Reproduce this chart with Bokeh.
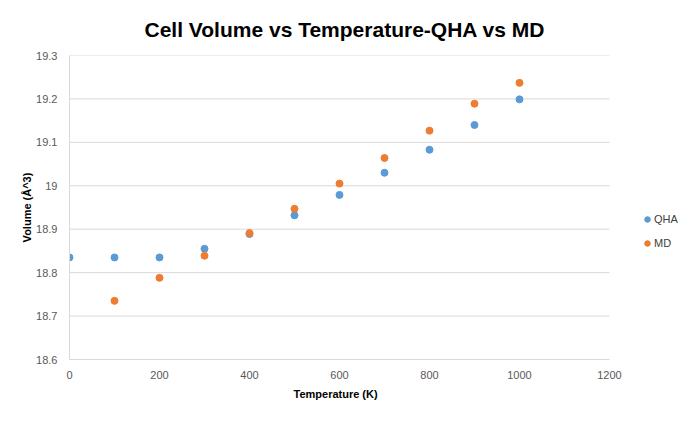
from bokeh.plotting import figure
from bokeh.models import ColumnDataSource, Legend, LegendItem, FixedTicker, Title
from bokeh.embed import file_html
from bokeh.resources import INLINE

# temperatures (K) and cell volumes (A^3)
temperature = [0, 100, 200, 300, 400, 500, 600, 700, 800, 900, 1000]
qha_volume = [18.835, 18.835, 18.835, 18.855, 18.889, 18.932, 18.979, 19.030, 19.083, 19.140, 19.199]
md_temperature = [100, 200, 300, 400, 500, 600, 700, 800, 900, 1000]
md_volume = [18.735, 18.788, 18.839, 18.891, 18.947, 19.005, 19.064, 19.127, 19.189, 19.237]

x_ticks = [0, 200, 400, 600, 800, 1000, 1200]
y_ticks = [18.6, 18.7, 18.8, 18.9, 19.0, 19.1, 19.2, 19.3]
y_tick_labels = ["18.6", "18.7", "18.8", "18.9", "19", "19.1", "19.2", "19.3"]

FONT = "Liberation Sans"
GREY = "#595959"
LINE = "#d9d9d9"

qha_source = ColumnDataSource(dict(x=temperature, y=qha_volume))
md_source = ColumnDataSource(dict(x=md_temperature, y=md_volume))
grid_source = ColumnDataSource(dict(x0=[x_ticks[0]] * len(y_ticks), x1=[x_ticks[-1]] * len(y_ticks),
                                    y=y_ticks))

# the frame runs on past 1200 so the legend can sit to the right of the data area
# (a legend in a side panel upsets the layout); axis and grid stop at 1200
frame_px, data_px = 617, 540
p = figure(width=686, height=414, output_backend="svg", toolbar_location=None,
           x_range=(0, x_ticks[-1] * frame_px / data_px), y_range=(18.6, 19.3),
           min_border_left=69, min_border_right=0, min_border_top=55, min_border_bottom=55)
p.background_fill_color = "white"
p.border_fill_color = "white"
p.outline_line_color = None

# title
p.title.text = "Cell Volume vs Temperature-QHA vs MD"
p.title.align = "left"
p.title.offset = 75
p.title.standoff = 30
p.title.text_font = FONT
p.title.text_font_size = "21px"
p.title.text_font_style = "bold"
p.title.text_color = "black"

# grid: horizontal lines only, drawn between 0 and 1200
p.xgrid.grid_line_color = None
p.ygrid.grid_line_color = None
p.segment(x0="x0", x1="x1", y0="y", y1="y", source=grid_source, line_color=LINE, line_width=1)

# axes
p.xaxis.ticker = FixedTicker(ticks=x_ticks)
p.xaxis.bounds = (x_ticks[0], x_ticks[-1])
p.yaxis.ticker = FixedTicker(ticks=y_ticks)
p.yaxis.major_label_overrides = dict(zip(y_ticks, y_tick_labels))
for ax in (p.xaxis, p.yaxis):
    ax.axis_line_color = LINE
    ax.major_tick_line_color = None
    ax.minor_tick_line_color = None
    ax.major_label_text_font = FONT
    ax.major_label_text_font_size = "11px"
    ax.major_label_text_color = GREY
    ax.axis_label_text_font = FONT
    ax.axis_label_text_font_size = "11px"
    ax.axis_label_text_font_style = "bold"
    ax.axis_label_text_color = "black"
p.xaxis.major_label_standoff = 5
p.yaxis.axis_label = "Volume (Å^3)"
p.yaxis.major_label_standoff = 6
p.yaxis.axis_label_standoff = 0

# x axis label centred under the 0-1200 span rather than the whole frame
x_label = Title(text="Temperature (K)", align="left", offset=224, standoff=9,
                text_font=FONT, text_font_size="11px", text_font_style="bold", text_color="black")
p.add_layout(x_label, "below")

# scatter series
qha = p.scatter("x", "y", source=qha_source, size=7, color="#5b9bd5")
md = p.scatter("x", "y", source=md_source, size=7, color="#ed7d31")

legend = Legend(items=[LegendItem(label="QHA", renderers=[qha]),
                       LegendItem(label="MD", renderers=[md])],
                location=(571, 106))
legend.border_line_color = None
legend.background_fill_alpha = 0
legend.padding = 0
legend.margin = 0
legend.spacing = 4
legend.glyph_width = 14
legend.glyph_height = 14
legend.label_height = 20
legend.label_standoff = 0
legend.label_text_font = FONT
legend.label_text_font_size = "11px"
legend.label_text_color = "#404040"
p.add_layout(legend, "center")

open("out.html", "w").write(file_html(p, INLINE))
